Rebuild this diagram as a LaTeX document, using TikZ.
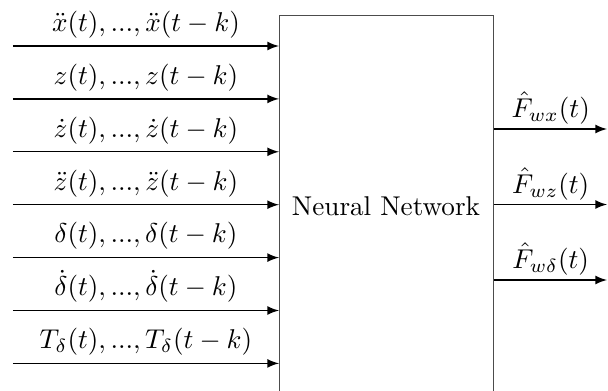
\documentclass[tikz,border=0pt]{standalone}
\usetikzlibrary{arrows}
\begin{document}
\begin{tikzpicture}[x=0.368pt,y=-0.368pt,
  conn/.style={-latex, line width=0.5pt},
  inlabel/.style={midway, anchor=base, yshift=5.4pt},
  outlabel/.style={midway, anchor=base, yshift=4.2pt},
  nnbox/.style={draw=black!70, line width=0.5pt, minimum width=214*0.368pt, minimum height=380*0.368pt, anchor=north west, inner sep=0pt}]
\clip (0,0) rectangle (608,391);
\node[nnbox] (nn) at (279,15) {};
\node (nntext) at (386,206) {Neural Network};
\coordinate (i1) at (13,46);
\coordinate (i2) at (13,98.9);
\coordinate (i3) at (13,151.8);
\coordinate (i4) at (13,204.7);
\coordinate (i5) at (13,257.6);
\coordinate (i6) at (13,310.5);
\coordinate (i7) at (13,363.4);
\draw[conn] (i1) -- (i1 -| nn.west) node[inlabel] {$\ddot{x}(t),...,\ddot{x}(t-k)$};
\draw[conn] (i2) -- (i2 -| nn.west) node[inlabel] {$z(t),...,z(t-k)$};
\draw[conn] (i3) -- (i3 -| nn.west) node[inlabel] {$\dot{z}(t),...,\dot{z}(t-k)$};
\draw[conn] (i4) -- (i4 -| nn.west) node[inlabel] {$\ddot{z}(t),...,\ddot{z}(t-k)$};
\draw[conn] (i5) -- (i5 -| nn.west) node[inlabel] {$\delta(t),...,\delta(t-k)$};
\draw[conn] (i6) -- (i6 -| nn.west) node[inlabel] {$\dot{\delta}(t),...,\dot{\delta}(t-k)$};
\draw[conn] (i7) -- (i7 -| nn.west) node[inlabel] {$T_\delta(t),...,T_\delta(t-k)$};
\coordinate (o1) at (607,129);
\coordinate (o2) at (607,204.5);
\coordinate (o3) at (607,280);
\draw[conn] (o1 -| nn.east) -- (o1) node[outlabel] {$\hat{F}_{wx}(t)$};
\draw[conn] (o2 -| nn.east) -- (o2) node[outlabel] {$\hat{F}_{wz}(t)$};
\draw[conn] (o3 -| nn.east) -- (o3) node[outlabel] {$\hat{F}_{w\delta}(t)$};
\end{tikzpicture}
\end{document}
